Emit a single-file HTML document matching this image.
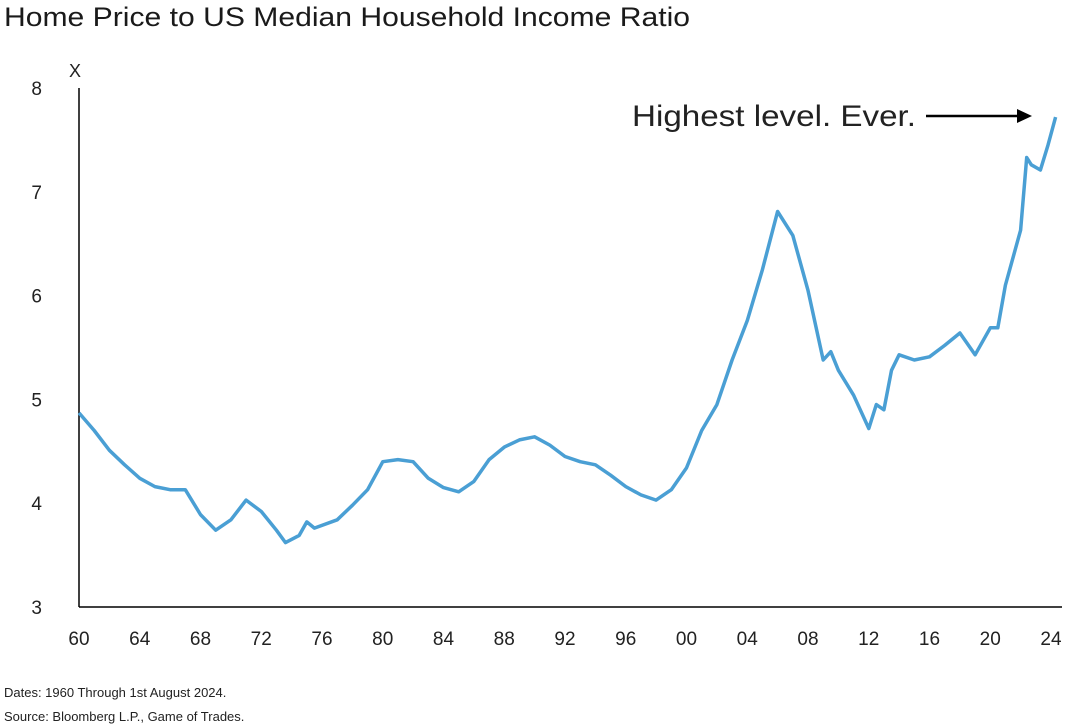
<!DOCTYPE html>
<html><head><meta charset="utf-8"><style>
html,body{margin:0;padding:0;background:#fff;}
svg{display:block;font-family:"Liberation Sans",sans-serif;}
</style></head><body>
<svg id="chart" width="1081" height="725" viewBox="0 0 1081 725">
<rect width="1081" height="725" fill="#fff"/>
<text x="4" y="26" font-size="27" fill="#1a1a1a" textLength="686" lengthAdjust="spacingAndGlyphs">Home Price to US Median Household Income Ratio</text>
<text x="69" y="77" font-size="18" fill="#222">X</text>
<g id="yt"></g>
<g id="xt"></g>
<line x1="79" y1="88" x2="79" y2="607" stroke="#000" stroke-width="1.5"/>
<line x1="79" y1="607" x2="1062" y2="607" stroke="#000" stroke-width="1.5"/>
<path id="series" fill="none" stroke="#4a9fd4" stroke-width="3.5" stroke-linejoin="round"/>
<text x="632" y="126" font-size="30" fill="#222" textLength="284" lengthAdjust="spacingAndGlyphs">Highest level. Ever.</text>
<line x1="926" y1="116" x2="1020" y2="116" stroke="#000" stroke-width="2.5"/>
<polygon points="1032,116 1017,109 1017,123" fill="#000"/>
<text x="4" y="697" font-size="13" fill="#222">Dates: 1960 Through 1st August 2024.</text>
<text x="4" y="721" font-size="13" fill="#222">Source: Bloomberg L.P., Game of Trades.</text>
</svg>
<script>
const years=[1960,1961,1962,1963,1964,1965,1966,1967,1968,1969,1970,1971,1972,1973,1973.6,1974.5,1975,1975.5,1977,1978,1979,1980,1981,1982,1983,1984,1985,1986,1987,1988,1989,1990,1991,1992,1993,1994,1995,1996,1997,1998,1999,2000,2001,2002,2003,2004,2005,2006,2007,2008,2009,2009.5,2010,2011,2012,2012.5,2013,2013.5,2014,2015,2016,2017,2018,2019,2020,2020.5,2021,2022,2022.4,2022.7,2023.3,2023.8,2024.3];
const ratio=[4.87,4.70,4.51,4.37,4.24,4.16,4.13,4.13,3.89,3.74,3.84,4.03,3.92,3.74,3.62,3.69,3.82,3.76,3.84,3.98,4.13,4.40,4.42,4.40,4.24,4.15,4.11,4.21,4.42,4.54,4.61,4.64,4.56,4.45,4.40,4.37,4.27,4.16,4.08,4.03,4.13,4.34,4.70,4.95,5.38,5.76,6.25,6.81,6.58,6.05,5.38,5.46,5.28,5.04,4.72,4.95,4.90,5.28,5.43,5.38,5.41,5.52,5.64,5.43,5.69,5.69,6.10,6.63,7.33,7.26,7.21,7.45,7.72];
const yTicks=[3,4,5,6,7,8];
const xTicks=[1960,1964,1968,1972,1976,1980,1984,1988,1992,1996,2000,2004,2008,2012,2016,2020,2024];
const NS="http://www.w3.org/2000/svg";
const X=v=>79+(v-1960)*(972/64);
const Y=v=>607-(v-3)*103.8;
let d="";
years.forEach((yr,i)=>{d+=(i?"L":"M")+X(yr).toFixed(1)+","+Y(ratio[i]).toFixed(1);});
document.getElementById("series").setAttribute("d",d);
const yt=document.getElementById("yt");
yTicks.forEach(v=>{const t=document.createElementNS(NS,"text");


t.setAttribute("x",42);t.setAttribute("y",Y(v)+7);t.setAttribute("font-size","19");t.setAttribute("text-anchor","end");t.setAttribute("fill","#222");t.textContent=v;yt.appendChild(t);});
const xt=document.getElementById("xt");
xTicks.forEach(v=>{const t=document.createElementNS(NS,"text");


t.setAttribute("x",X(v));t.setAttribute("y",645);t.setAttribute("font-size","19");t.setAttribute("text-anchor","middle");t.setAttribute("fill","#222");t.textContent=String(v%100).padStart(2,"0");xt.appendChild(t);});
</script>
</body></html>
